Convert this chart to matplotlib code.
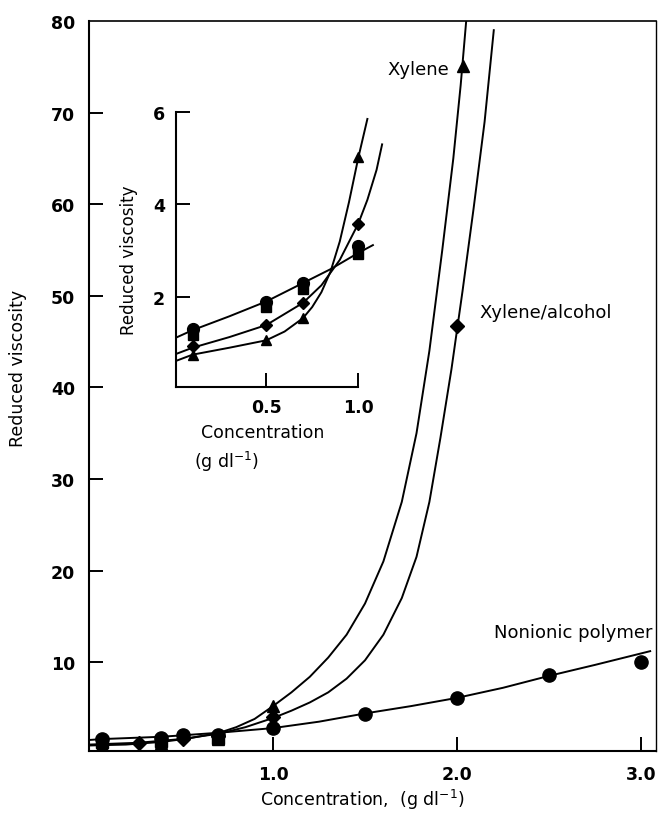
import matplotlib
matplotlib.use('Agg')
import matplotlib.pyplot as plt

plt.rcParams['font.family'] = ['DejaVu Sans']

# ---- main plot: measured points
conc_nonionic = [0.07, 0.39, 0.51, 0.70, 1.0, 1.5, 2.0, 2.5, 3.0]
visc_nonionic = [1.6, 1.7, 2.1, 2.0, 2.8, 4.3, 6.1, 8.6, 10.0]
conc_square = [0.07, 0.39, 0.70]
visc_square = [1.3, 1.4, 1.7]
conc_xylene = [0.07, 0.39, 0.70, 1.0, 2.03]
visc_xylene = [0.9, 1.2, 1.6, 5.2, 75.1]
conc_xyl_alc = [0.27, 0.51, 0.70, 1.0, 2.0]
visc_xyl_alc = [1.2, 1.6, 1.9, 4.0, 46.7]

# ---- main plot: drawn curves
curve_nonionic_x = [0.0, 0.07, 0.39, 0.5, 0.71, 1.0, 1.25, 1.5, 1.75, 2.0, 2.25, 2.5, 2.75, 3.05]
curve_nonionic_y = [1.5, 1.6, 1.85, 2.0, 2.3, 2.8, 3.5, 4.4, 5.2, 6.1, 7.2, 8.5, 9.7, 11.2]
curve_xylene_x = [0.0, 0.2, 0.4, 0.55, 0.71, 0.8, 0.9, 1.0, 1.1, 1.2, 1.3, 1.4,
                  1.5, 1.6, 1.7, 1.78, 1.85, 1.92, 1.98, 2.02, 2.05]
curve_xylene_y = [0.9, 1.0, 1.3, 1.7, 2.3, 2.9, 3.8, 5.2, 6.7, 8.4, 10.5, 13.0,
                  16.4, 21.0, 27.5, 35.0, 44.0, 55.0, 65.0, 73.0, 80.0]
curve_alc_x = [0.0, 0.27, 0.5, 0.71, 0.85, 1.0, 1.1, 1.2, 1.3, 1.4, 1.5, 1.6,
               1.7, 1.78, 1.85, 1.91, 1.97, 2.03, 2.09, 2.15, 2.2]
curve_alc_y = [1.0, 1.2, 1.6, 2.2, 2.9, 3.9, 4.7, 5.6, 6.7, 8.2, 10.2, 13.0,
               17.0, 21.5, 27.5, 34.5, 42.0, 50.5, 59.5, 69.0, 79.0]

# ---- inset: measured points
conc_in = [0.1, 0.5, 0.7, 1.0]
visc_in_circle = [1.31, 1.9, 2.3, 3.11]
visc_in_square = [1.18, 1.78, 2.18, 2.92]
visc_in_diamond = [0.93, 1.39, 1.87, 3.58]
visc_in_triangle = [0.75, 1.06, 1.54, 5.02]

# ---- inset: drawn curves (traced)
in_circle_x = [0.0, 0.1, 0.3, 0.5, 0.7, 0.85, 1.0, 1.08]
in_circle_y = [1.1, 1.28, 1.58, 1.9, 2.3, 2.6, 2.95, 3.12]
in_diamond_x = [0.0, 0.1, 0.3, 0.5, 0.7, 0.8, 0.9, 1.0, 1.05, 1.1, 1.13]
in_diamond_y = [0.75, 0.9, 1.13, 1.39, 1.87, 2.25, 2.8, 3.58, 4.1, 4.75, 5.3]
in_triangle_x = [0.0, 0.1, 0.3, 0.5, 0.6, 0.7, 0.75, 0.8, 0.85, 0.9, 0.95, 1.0, 1.05]
in_triangle_y = [0.6, 0.75, 0.9, 1.06, 1.25, 1.54, 1.78, 2.1, 2.55, 3.2, 4.05, 5.0, 5.85]

lw = 1.4
fig = plt.figure(figsize=(6.58, 8.28), dpi=100)
ax = fig.add_axes([0.1353, 0.0918, 0.8612, 0.8816])

ax.plot(curve_nonionic_x, curve_nonionic_y, color='black', lw=lw)
ax.plot(curve_xylene_x, curve_xylene_y, color='black', lw=lw)
ax.plot(curve_alc_x, curve_alc_y, color='black', lw=lw)

ax.plot(conc_square, visc_square, 's', color='black', ms=8)
ax.plot(conc_nonionic, visc_nonionic, 'o', color='black', ms=9.5)
ax.plot(conc_xylene, visc_xylene, '^', color='black', ms=8)
ax.plot(conc_xyl_alc, visc_xyl_alc, 'D', color='black', ms=7)

ax.set_xlim(0.0, 3.08)
ax.set_ylim(0.3, 80)
ax.set_xticks([1.0, 2.0, 3.0])
ax.set_xticklabels(['1.0', '2.0', '3.0'])
ax.set_yticks([10, 20, 30, 40, 50, 60, 70, 80])
ax.tick_params(direction='in', length=10, width=1.4, labelsize=12.5, pad=10)
ax.yaxis.get_major_ticks()[-1].tick1line.set_visible(False)
for lab in ax.get_xticklabels() + ax.get_yticklabels():
    lab.set_fontweight('bold')
for sp in ax.spines.values():
    sp.set_linewidth(1.5)
ax.spines['top'].set_linewidth(1.2)
ax.spines['right'].set_linewidth(1.0)

ax.set_ylabel('Reduced viscosity', fontsize=12.5)
ax.yaxis.set_label_coords(-0.11, 0.526)
ax.set_xlabel('Concentration,  (g dl$^{-1}$)', fontsize=12.5)
ax.xaxis.label.set_va('center')
ax.xaxis.set_label_coords(0.482, -0.066)

ax.text(1.957, 74.8, 'Xylene', ha='right', va='center', fontsize=13)
ax.text(2.12, 48.2, 'Xylene/alcohol', ha='left', va='center', fontsize=13)
ax.text(2.20, 13.3, 'Nonionic polymer', ha='left', va='center', fontsize=13)

# inset
axi = fig.add_axes([0.2675, 0.5314, 0.3188, 0.3321])
axi.patch.set_alpha(0)
axi.plot(in_circle_x, in_circle_y, color='black', lw=lw)
axi.plot(in_diamond_x, in_diamond_y, color='black', lw=lw)
axi.plot(in_triangle_x, in_triangle_y, color='black', lw=lw)
axi.plot(conc_in, visc_in_square, 's', color='black', ms=7.5)
axi.plot(conc_in, visc_in_circle, 'o', color='black', ms=8.5)
axi.plot(conc_in, visc_in_diamond, 'D', color='black', ms=6.5)
axi.plot(conc_in, visc_in_triangle, '^', color='black', ms=7.5)

axi.set_xlim(0.01, 1.15)
axi.set_ylim(0.05, 6)
axi.spines['top'].set_visible(False)
axi.spines['right'].set_visible(False)
axi.spines['left'].set_linewidth(1.5)
axi.spines['bottom'].set_linewidth(1.5)
axi.spines['bottom'].set_bounds(0.01, 1.0)
axi.set_xticks([0.5, 1.0])
axi.set_xticklabels(['0.5', '1.0'])
axi.set_yticks([2, 4, 6])
axi.tick_params(direction='in', length=10, width=1.4, labelsize=12.5, pad=8)
for lab in axi.get_xticklabels() + axi.get_yticklabels():
    lab.set_fontweight('bold')
axi.set_ylabel('Reduced viscosity', fontsize=12)
axi.yaxis.set_label_coords(-0.18, 0.465)
axi.text(0.12, -0.165, 'Concentration', transform=axi.transAxes,
         ha='left', va='center', fontsize=12.5)
axi.text(0.085, -0.27, '(g dl$^{-1}$)', transform=axi.transAxes,
         ha='left', va='center', fontsize=12.5)

plt.savefig('out.png', dpi=100)
plt.close()
